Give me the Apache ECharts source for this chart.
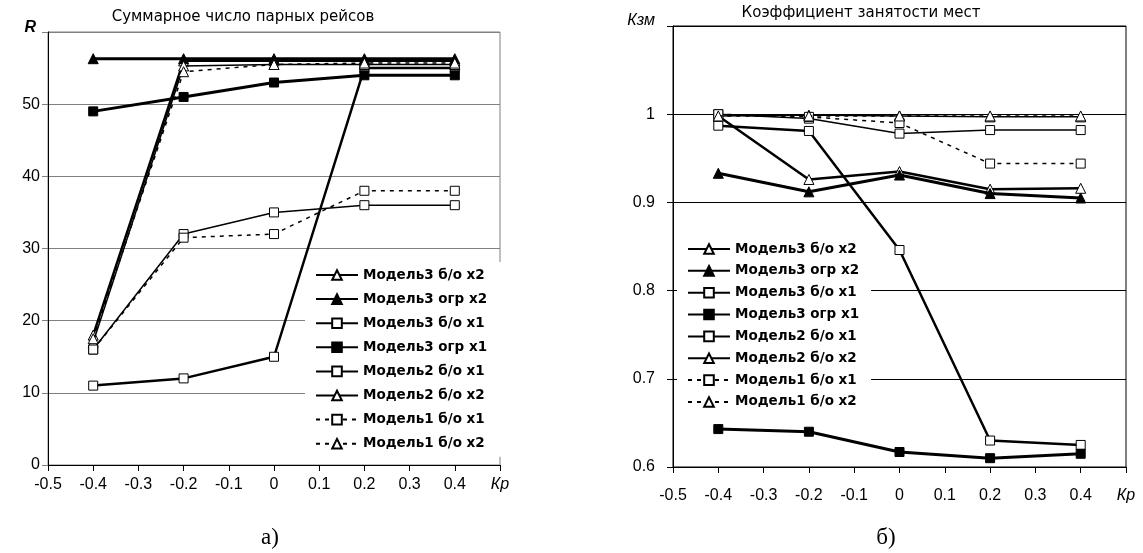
<!DOCTYPE html>
<html>
<head>
<meta charset="utf-8">
<script src="https://cdn.jsdelivr.net/npm/echarts@6/dist/echarts.min.js"></script>
<style>
html,body{margin:0;padding:0;background:#fff;}
#c{width:1143px;height:553px;}
</style>
</head>
<body>
<div id="c"></div>
<script>
// ---- data ----
const KP = [-0.4, -0.2, 0, 0.2, 0.4];
const NAMES = ['Модель3 б/о х2', 'Модель3 огр х2', 'Модель3 б/о х1', 'Модель3 огр х1',
               'Модель2 б/о х1', 'Модель2 б/о х2', 'Модель1 б/о х1', 'Модель1 б/о х2'];

// Left: R (Суммарное число парных рейсов)
const R_M3_BO_X2  = [18, 56, 56, 56, 56];
const R_M3_OGR_X2 = [56.3, 56.3, 56.3, 56.3, 56.3];
const R_M3_BO_X1  = [11, 12, 15, 55, 55];
const R_M3_OGR_X1 = [49, 51, 53, 54, 54];
const R_M2_BO_X1  = [16, 32, 35, 36, 36];
const R_M2_BO_X2  = [17, 55.3, 55.5, 55.5, 55.5];
const R_M1_BO_X1  = [16, 31.5, 32, 38, 38];
const R_M1_BO_X2  = [17.5, 54.5, 55.5, 55.7, 55.7];

// Right: Кзм (Коэффициент занятости мест)
const K_M3_BO_X2  = [0.998, 0.926, 0.935, 0.915, 0.916];
const K_M3_OGR_X2 = [0.933, 0.912, 0.931, 0.910, 0.905];
const K_M3_BO_X1  = [0.987, 0.981, 0.846, 0.630, 0.625];
const K_M3_OGR_X1 = [0.643, 0.640, 0.617, 0.610, 0.615];
const K_M2_BO_X1  = [1.000, 0.995, 0.978, 0.982, 0.982];
const K_M2_BO_X2  = [0.998, 0.999, 0.998, 0.997, 0.997];
const K_M1_BO_X1  = [1.000, 0.997, 0.990, 0.944, 0.944];
const K_M1_BO_X2  = [0.998, 0.998, 0.998, 0.998, 0.998];

const LEFT_VALUES  = [R_M3_BO_X2, R_M3_OGR_X2, R_M3_BO_X1, R_M3_OGR_X1, R_M2_BO_X1, R_M2_BO_X2, R_M1_BO_X1, R_M1_BO_X2];
const RIGHT_VALUES = [K_M3_BO_X2, K_M3_OGR_X2, K_M3_BO_X1, K_M3_OGR_X1, K_M2_BO_X1, K_M2_BO_X2, K_M1_BO_X1, K_M1_BO_X2];

const LEFT_TITLE = 'Суммарное число парных рейсов';
const RIGHT_TITLE = 'Коэффициент занятости мест';

// ---- styles ----
const STYLES = [
  {symbol: 'triangle', fill: '#fff', width: 2.5, type: 'solid', size: 10},
  {symbol: 'triangle', fill: '#000', width: 3,   type: 'solid', size: 10},
  {symbol: 'rect',     fill: '#fff', width: 2.5, type: 'solid', size: 9},
  {symbol: 'rect',     fill: '#000', width: 3,   type: 'solid', size: 9},
  {symbol: 'rect',     fill: '#fff', width: 1.5, type: 'solid', size: 9},
  {symbol: 'triangle', fill: '#fff', width: 1.5, type: 'solid', size: 10},
  {symbol: 'rect',     fill: '#fff', width: 1.5, type: [4, 5],  size: 9},
  {symbol: 'triangle', fill: '#fff', width: 1.5, type: [4, 5],  size: 10}
];

function fmt(v) { return String(Math.round(v * 10) / 10); }

function makeSeries(values, axisIdx) {
  return values.map((arr, i) => {
    const s = STYLES[i];
    return {
      name: NAMES[i],
      type: 'line',
      xAxisIndex: axisIdx,
      yAxisIndex: axisIdx,
      data: KP.map((x, j) => [x, arr[j]]),
      symbol: s.symbol,
      symbolSize: s.size,
      showAllSymbol: true,
      animation: false,
      lineStyle: {color: '#000', width: s.width, type: s.type},
      itemStyle: {color: s.fill, borderColor: '#000', borderWidth: 1},
      emphasis: {disabled: true},
      z: 3 + i * 0.01
    };
  });
}

const tickFont = {fontFamily: 'Liberation Sans', fontSize: 16, color: '#000'};
const legendText = {fontFamily: 'DejaVu Sans', fontWeight: 'bold', fontSize: 13.5, color: '#000', lineHeight: 12};

const chart = echarts.init(document.getElementById('c'), null, {renderer: 'canvas'});
chart.setOption({
  backgroundColor: '#fff',
  animation: false,
  title: [
    {text: LEFT_TITLE, left: 243, top: 10, textAlign: 'center', padding: 0,
     textStyle: {fontFamily: 'DejaVu Sans', fontSize: 15, fontWeight: 'normal', color: '#000'}},
    {text: RIGHT_TITLE, left: 861, top: 6, textAlign: 'center', padding: 0,
     textStyle: {fontFamily: 'DejaVu Sans', fontSize: 15, fontWeight: 'normal', color: '#000'}},
    {text: 'а)', left: 270, top: 526, textAlign: 'center', padding: 0,
     textStyle: {fontFamily: 'Liberation Serif', fontSize: 23, fontWeight: 'normal', color: '#000'}},
    {text: 'б)', left: 886, top: 526, textAlign: 'center', padding: 0,
     textStyle: {fontFamily: 'Liberation Serif', fontSize: 23, fontWeight: 'normal', color: '#000'}}
  ],
  grid: [
    {left: 48, top: 32, width: 452, height: 433, show: true, borderColor: '#808080', borderWidth: 1, backgroundColor: 'transparent'},
    {left: 673, top: 26, width: 453, height: 441, show: true, borderColor: '#000', borderWidth: 1, backgroundColor: 'transparent'}
  ],
  xAxis: [
    {type: 'value', gridIndex: 0, min: -0.5, max: 0.5, interval: 0.1,
     axisLine: {show: true, onZero: false, lineStyle: {color: '#000', width: 1}},
     axisTick: {show: true, inside: false, length: 6, lineStyle: {color: '#000'}},
     splitLine: {show: false},
     axisLabel: Object.assign({margin: 12, showMaxLabel: true, showMinLabel: true,
       formatter: v => Math.abs(v - 0.5) < 1e-6 ? '{i|Кр}' : fmt(v),
       rich: {i: {fontFamily: 'Liberation Sans', fontSize: 16, fontStyle: 'italic', color: '#000'}}}, tickFont)},
    {type: 'value', gridIndex: 1, min: -0.5, max: 0.5, interval: 0.1,
     axisLine: {show: true, onZero: false, lineStyle: {color: '#000', width: 1}},
     axisTick: {show: true, inside: false, length: 6, lineStyle: {color: '#000'}},
     splitLine: {show: false},
     axisLabel: Object.assign({margin: 21, showMaxLabel: true, showMinLabel: true,
       formatter: v => Math.abs(v - 0.5) < 1e-6 ? '{i|Кр}' : fmt(v),
       rich: {i: {fontFamily: 'Liberation Sans', fontSize: 16, fontStyle: 'italic', color: '#000'}}}, tickFont)}
  ],
  yAxis: [
    {type: 'value', gridIndex: 0, min: 0, max: 60, interval: 10,
     axisLine: {show: true, onZero: false, lineStyle: {color: '#000', width: 1}},
     axisTick: {show: true, inside: false, length: 6, lineStyle: {color: '#808080'}},
     splitLine: {show: true, lineStyle: {color: '#808080', width: 1}},
     axisLabel: Object.assign({margin: 8, showMaxLabel: true,
       formatter: v => v >= 59.9 ? '{i|R}' : fmt(v),
       rich: {i: {fontFamily: 'Liberation Sans', fontSize: 16, fontStyle: 'italic', fontWeight: 'bold', color: '#000', padding: [0, 4, 8, 0]}}}, tickFont)},
    {type: 'value', gridIndex: 1, min: 0.6, max: 1.1, interval: 0.1,
     axisLine: {show: true, onZero: false, lineStyle: {color: '#000', width: 1}},
     axisTick: {show: true, inside: false, length: 6, lineStyle: {color: '#000'}},
     splitLine: {show: true, lineStyle: {color: '#000', width: 1}},
     axisLabel: Object.assign({margin: 18, showMaxLabel: true,
       formatter: v => v >= 1.05 ? '{i|Кзм}' : fmt(v),
       rich: {i: {fontFamily: 'Liberation Sans', fontSize: 16, fontStyle: 'italic', color: '#000', padding: [0, 0, 10, 0]}}}, tickFont)}
  ],
  legend: [
    {data: NAMES, orient: 'vertical', left: 305, top: 262, padding: [6, 17, 6, 10],
     backgroundColor: '#fff', itemWidth: 42, itemHeight: 12, itemGap: 10.1,
     selectedMode: false, textStyle: legendText, z: 10},
    {data: NAMES, orient: 'vertical', left: 677, top: 236, padding: [6, 12, 6, 10],
     backgroundColor: '#fff', itemWidth: 42, itemHeight: 12, itemGap: 7.85,
     selectedMode: false, textStyle: legendText, z: 10}
  ],
  series: makeSeries(LEFT_VALUES, 0).concat(makeSeries(RIGHT_VALUES, 1))
});
</script>
</body>
</html>
